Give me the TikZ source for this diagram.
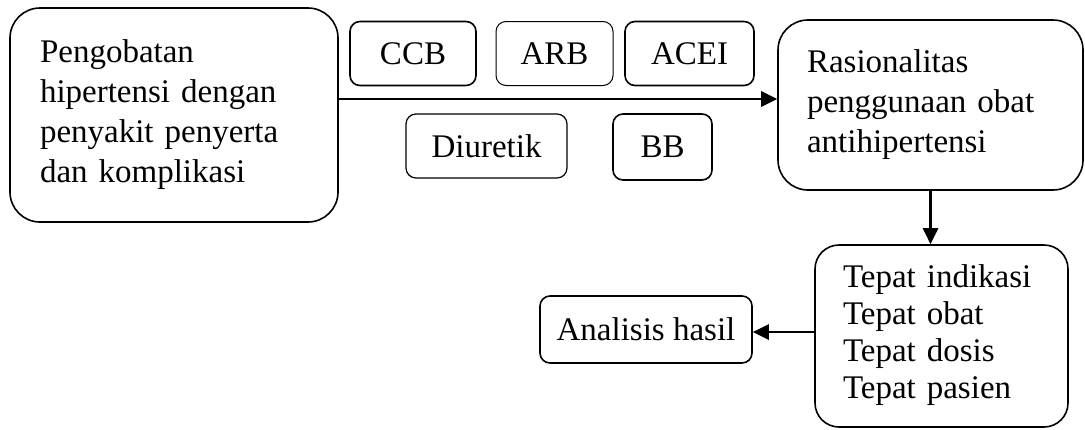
\documentclass[tikz,border=0pt]{standalone}
\usepackage{fontspec}
\setmainfont{Liberation Serif}
\usetikzlibrary{arrows.meta}
\begin{document}
\begin{tikzpicture}[x=0.5pt, y=-0.5pt,
  every node/.style={font=\fontsize{16.5}{20}\selectfont},
  bigbox/.style={draw, line width=0.8pt, rounded corners=15pt, align=left, inner xsep=15pt},
  drugbox/.style={draw, line width=0.8pt, rounded corners=5pt, minimum height=32pt},
  arr/.style={-{Triangle[length=8pt,width=7.5pt]}, line width=1.4pt}]
\useasboundingbox (0,0) rectangle (1085,429);
\node[bigbox, text width=134pt, minimum height=107pt] (pengobatan) at (174,115)
  {Pengobatan\\hipertensi dengan\\penyakit penyerta\\dan komplikasi};
\node[drugbox, minimum width=63pt] (ccb) at (413,53.5) {CCB};
\node[drugbox, minimum width=58.5pt, line width=0.5pt] (arb) at (554.5,53.5) {ARB};
\node[drugbox, minimum width=64.5pt] (acei) at (689.5,53.5) {ACEI};
\node[drugbox, minimum width=80.5pt, line width=0.6pt] (diuretik) at (486.5,146) {Diuretik};
\node[drugbox, minimum width=49.5pt, minimum height=33pt] (bb) at (662.5,147) {BB};
\node[bigbox, inner xsep=14.5pt, text width=123.5pt, minimum height=85pt] (rasional) at (930.5,105)
  {Rasionalitas\\penggunaan obat\\antihipertensi\\[4pt]};
\node[bigbox, rounded corners=12pt, inner xsep=14pt, text width=98.5pt, minimum height=91pt,
  font=\fontsize{16.5}{18.5}\selectfont] (tepat) at (941.5,336)
  {\\[-8pt]Tepat indikasi\\Tepat obat\\Tepat dosis\\Tepat pasien};
\node[drugbox, minimum width=106pt, minimum height=33.5pt] (analisis) at (646,329.5) {Analisis hasil};
\draw[arr] (pengobatan.east |- 0,99) -- (rasional.west |- 0,99);
\draw[arr] (rasional.south) -- (rasional.south |- tepat.north);
\draw[arr] (tepat.west |- 0,332) -- (analisis.east |- 0,332);
\end{tikzpicture}
\end{document}
